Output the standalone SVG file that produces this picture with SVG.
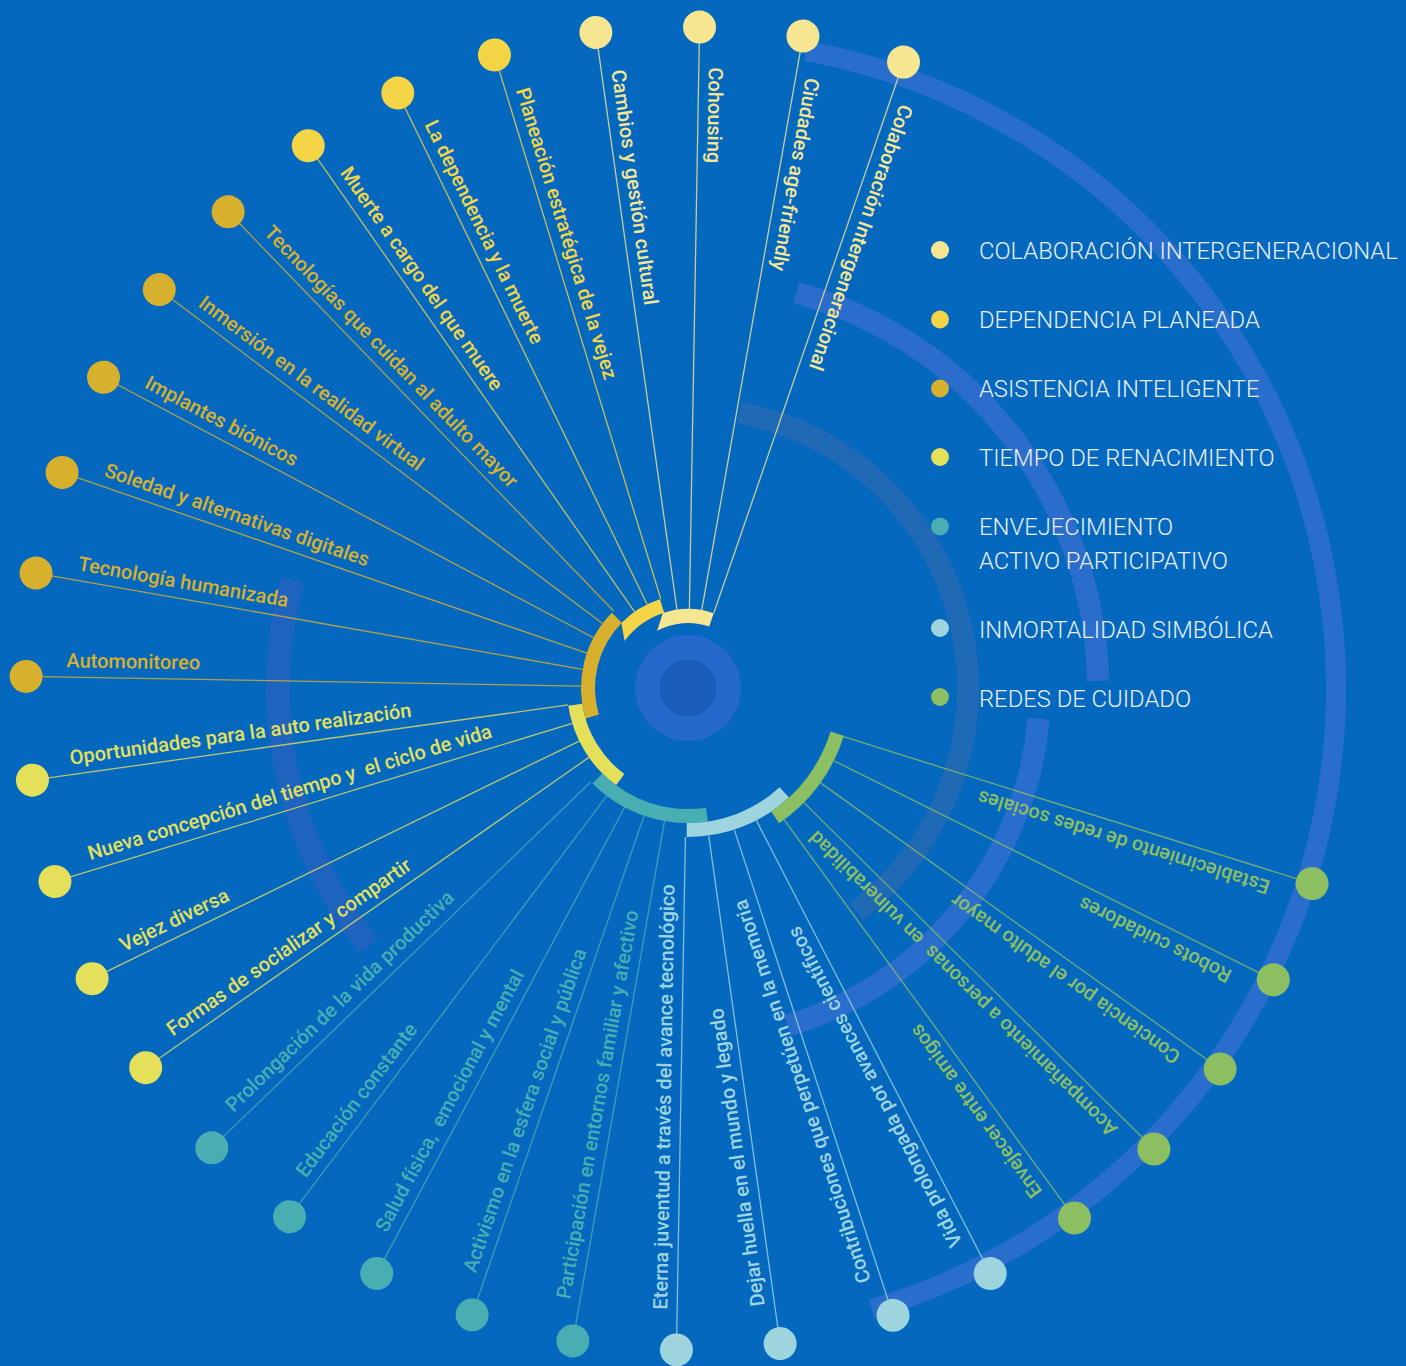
<svg xmlns="http://www.w3.org/2000/svg" width="1406" height="1366" viewBox="0 0 1406 1366">
<defs>
<style>
.bgarc{fill:none;stroke-linecap:butt}
.ring{fill:none;stroke-width:14;stroke-linecap:butt}
.ln{stroke-width:1.3;fill:none;opacity:0.8}
.lbl{font-family:Roboto,"Liberation Sans",sans-serif;font-size:20px;font-weight:500;white-space:pre}
.leg{font-family:Roboto,"Liberation Sans",sans-serif;font-size:23.8px;font-weight:300;fill:#E8EEF8}
.k1{fill:#F6E692}.s1{stroke:#F6E692}
.k2{fill:#F3D546}.s2{stroke:#F3D546}
.k3{fill:#D7B12D}.s3{stroke:#D7B12D}
.k4{fill:#E4E05A}.s4{stroke:#E4E05A}
.k5{fill:#48AEB2}.s5{stroke:#48AEB2}
.k6{fill:#9DD4DD}.s6{stroke:#9DD4DD}
.k7{fill:#8BBF62}.s7{stroke:#8BBF62}
</style>
</defs>
<rect width="1406" height="1366" fill="#0568BF"/>

<g id="background-arcs" transform="translate(688 688)">
<circle class="bgarc" r="648" stroke="#2A6ECD" stroke-width="20" stroke-dasharray="1730.4 4000" transform="rotate(280.5)"/>
<circle class="bgarc" r="410" stroke="#2A6DCB" stroke-width="22" stroke-dasharray="527.4 4000" transform="rotate(285.3)"/>
<circle class="bgarc" r="352" stroke="#2A6ECD" stroke-width="22" stroke-dasharray="420.8 4000" transform="rotate(5)"/>
<circle class="bgarc" r="280" stroke="#2069B5" stroke-width="22" stroke-dasharray="647 4000" transform="rotate(280.6)"/>
<circle class="bgarc" r="410" stroke="#1E63BE" stroke-width="24" stroke-dasharray="388.6 4000" transform="rotate(141)"/>
</g>

<g id="center">
<circle cx="688" cy="688" r="53" fill="#2469CB"/>
<circle cx="688" cy="688" r="28.5" fill="#1A5EB9"/>
</g>

<g id="ring">
<path class="k1" d="M 662.8 613.1 A 79 79 0 0 1 713.7 613.3 L 709.2 626.5 A 65 65 0 0 0 657.2 630.8 Z"/>
<path class="k2" d="M 621.4 623.0 A 93 93 0 0 1 660.0 599.3 L 664.2 612.7 A 79 79 0 0 0 624.6 640.9 Z"/>
<g transform="translate(688 688)">
<circle class="ring s3" r="100" stroke-dasharray="106.47 2000" transform="rotate(163.5)"/>
<circle class="ring s4" r="114" stroke-dasharray="89.54 2000" transform="rotate(126.5)"/>
<circle class="ring s5" r="128" stroke-dasharray="119.52 2000" transform="rotate(81.5)"/>
<circle class="ring s6" r="142" stroke-dasharray="107.07 2000" transform="rotate(47.3)"/>
<circle class="ring s7" r="156" stroke-dasharray="106.19 2000" transform="rotate(17)"/>
</g>
</g>

<g id="connectors" transform="translate(688 688)">
<line class="ln s1" x1="79" x2="662" transform="rotate(289)"/>
<line class="ln s1" x1="79" x2="662" transform="rotate(280)"/>
<line class="ln s1" x1="79" x2="661" transform="rotate(271)"/>
<line class="ln s1" x1="79" x2="662" transform="rotate(262)"/>
<line class="ln s2" x1="93" x2="662" transform="rotate(253)"/>
<line class="ln s2" x1="93" x2="662" transform="rotate(244)"/>
<line class="ln s2" x1="93" x2="662" transform="rotate(235)"/>
<line class="ln s3" x1="107" x2="662" transform="rotate(226)"/>
<line class="ln s3" x1="107" x2="662" transform="rotate(217)"/>
<line class="ln s3" x1="107" x2="662" transform="rotate(208)"/>
<line class="ln s3" x1="107" x2="662" transform="rotate(199)"/>
<line class="ln s3" x1="107" x2="662" transform="rotate(190)"/>
<line class="ln s3" x1="107" x2="662" transform="rotate(181)"/>
<line class="ln s4" x1="121" x2="662" transform="rotate(172)"/>
<line class="ln s4" x1="121" x2="662" transform="rotate(163)"/>
<line class="ln s4" x1="121" x2="663" transform="rotate(154)"/>
<line class="ln s4" x1="121" x2="662" transform="rotate(145)"/>
<line class="ln s5" x1="135" x2="662" transform="rotate(136)"/>
<line class="ln s5" x1="135" x2="662" transform="rotate(127)"/>
<line class="ln s5" x1="135" x2="663" transform="rotate(118)"/>
<line class="ln s5" x1="135" x2="663" transform="rotate(109)"/>
<line class="ln s5" x1="135" x2="663" transform="rotate(100)"/>
<line class="ln s6" x1="149" x2="662" transform="rotate(91)"/>
<line class="ln s6" x1="149" x2="662" transform="rotate(82)"/>
<line class="ln s6" x1="149" x2="660" transform="rotate(71.9)"/>
<line class="ln s6" x1="149" x2="659" transform="rotate(62.7)"/>
<line class="ln s7" x1="163" x2="656" transform="rotate(53.9)"/>
<line class="ln s7" x1="163" x2="655.5" transform="rotate(44.7)"/>
<line class="ln s7" x1="163" x2="654.5" transform="rotate(35.6)"/>
<line class="ln s7" x1="163" x2="654" transform="rotate(26.5)"/>
<line class="ln s7" x1="163" x2="654" transform="rotate(17.4)"/>
</g>

<g id="nodes" transform="translate(688 688)">
<g id="n-colaboracion" transform="rotate(289)"><circle class="k1" cx="662" r="16.5"/><text class="lbl k1" transform="translate(662 0) rotate(180)" x="40" y="-10">Colaboración Intergeneracional</text></g>
<g id="n-ciudades" transform="rotate(280)"><circle class="k1" cx="662" r="16.5"/><text class="lbl k1" transform="translate(662 0) rotate(180)" x="40" y="-10">Ciudades age-friendly</text></g>
<g id="n-cohousing" transform="rotate(271)"><circle class="k1" cx="661" r="16.5"/><text class="lbl k1" transform="translate(661 0) rotate(180)" x="40" y="-10">Cohousing</text></g>
<g id="n-cambios" transform="rotate(262)"><circle class="k1" cx="662" r="16.5"/><text class="lbl k1" transform="translate(662 0) rotate(180)" x="40" y="-10">Cambios y gestión cultural</text></g>
<g id="n-planeacion" transform="rotate(253)"><circle class="k2" cx="662" r="16.5"/><text class="lbl k2" transform="translate(662 0) rotate(180)" x="40" y="-10">Planeación estratégica de la vejez</text></g>
<g id="n-dependencia" transform="rotate(244)"><circle class="k2" cx="662" r="16.5"/><text class="lbl k2" transform="translate(662 0) rotate(180)" x="40" y="-10">La dependencia y la muerte</text></g>
<g id="n-muerte" transform="rotate(235)"><circle class="k2" cx="662" r="16.5"/><text class="lbl k2" transform="translate(662 0) rotate(180)" x="40" y="-10">Muerte a cargo del que muere</text></g>
<g id="n-tecnologias" transform="rotate(226)"><circle class="k3" cx="662" r="16.5"/><text class="lbl k3" transform="translate(662 0) rotate(180)" x="40" y="-10">Tecnologías que cuidan al adulto mayor</text></g>
<g id="n-inmersion" transform="rotate(217)"><circle class="k3" cx="662" r="16.5"/><text class="lbl k3" transform="translate(662 0) rotate(180)" x="40" y="-10">Inmersión en la realidad virtual</text></g>
<g id="n-implantes" transform="rotate(208)"><circle class="k3" cx="662" r="16.5"/><text class="lbl k3" transform="translate(662 0) rotate(180)" x="40" y="-10">Implantes biónicos</text></g>
<g id="n-soledad" transform="rotate(199)"><circle class="k3" cx="662" r="16.5"/><text class="lbl k3" transform="translate(662 0) rotate(180)" x="40" y="-10">Soledad y alternativas digitales</text></g>
<g id="n-tec-humanizada" transform="rotate(190)"><circle class="k3" cx="662" r="16.5"/><text class="lbl k3" transform="translate(662 0) rotate(180)" x="40" y="-10">Tecnología humanizada</text></g>
<g id="n-automonitoreo" transform="rotate(181)"><circle class="k3" cx="662" r="16.5"/><text class="lbl k3" transform="translate(662 0) rotate(180)" x="40" y="-10">Automonitoreo</text></g>
<g id="n-oportunidades" transform="rotate(172)"><circle class="k4" cx="662" r="16.5"/><text class="lbl k4" transform="translate(662 0) rotate(180)" x="40" y="-10">Oportunidades para la auto realización</text></g>
<g id="n-nueva" transform="rotate(163)"><circle class="k4" cx="662" r="16.5"/><text class="lbl k4" transform="translate(662 0) rotate(180)" x="40" y="-10">Nueva concepción del tiempo y  el ciclo de vida</text></g>
<g id="n-vejez" transform="rotate(154)"><circle class="k4" cx="663" r="16.5"/><text class="lbl k4" transform="translate(663 0) rotate(180)" x="40" y="-10">Vejez diversa</text></g>
<g id="n-formas" transform="rotate(145)"><circle class="k4" cx="662" r="16.5"/><text class="lbl k4" transform="translate(662 0) rotate(180)" x="40" y="-10">Formas de socializar y compartir</text></g>
<g id="n-prolongacion" transform="rotate(136)"><circle class="k5" cx="662" r="16.5"/><text class="lbl k5" transform="translate(662 0) rotate(180)" x="40" y="-10">Prolongación de la vida productiva</text></g>
<g id="n-educacion" transform="rotate(127)"><circle class="k5" cx="662" r="16.5"/><text class="lbl k5" transform="translate(662 0) rotate(180)" x="40" y="-10">Educación constante</text></g>
<g id="n-salud" transform="rotate(118)"><circle class="k5" cx="663" r="16.5"/><text class="lbl k5" transform="translate(663 0) rotate(180)" x="40" y="-10">Salud física,  emocional y mental</text></g>
<g id="n-activismo" transform="rotate(109)"><circle class="k5" cx="663" r="16.5"/><text class="lbl k5" transform="translate(663 0) rotate(180)" x="40" y="-10">Activismo en la esfera social y pública</text></g>
<g id="n-participacion" transform="rotate(100)"><circle class="k5" cx="663" r="16.5"/><text class="lbl k5" transform="translate(663 0) rotate(180)" x="40" y="-10">Participación en entornos familiar y afectivo</text></g>
<g id="n-eterna" transform="rotate(91)"><circle class="k6" cx="662" r="16.5"/><text class="lbl k6" transform="translate(662 0) rotate(180)" x="40" y="-10">Eterna juventud a través del avance tecnológico</text></g>
<g id="n-dejar" transform="rotate(82)"><circle class="k6" cx="662" r="16.5"/><text class="lbl k6" transform="translate(662 0) rotate(180)" x="40" y="-10">Dejar huella en el mundo y legado</text></g>
<g id="n-contribuciones" transform="rotate(71.9)"><circle class="k6" cx="660" r="16.5"/><text class="lbl k6" transform="translate(660 0) rotate(180)" x="40" y="-10">Contribuciones que perpetúen en la memoria</text></g>
<g id="n-vida" transform="rotate(62.7)"><circle class="k6" cx="659" r="16.5"/><text class="lbl k6" transform="translate(659 0) rotate(180)" x="40" y="-10">Vida prolongada por avances científicos</text></g>
<g id="n-envejecer" transform="rotate(53.9)"><circle class="k7" cx="656" r="16.5"/><text class="lbl k7" transform="translate(656 0) rotate(180)" x="40" y="-10">Envejecer entre amigos</text></g>
<g id="n-acompanamiento" transform="rotate(44.7)"><circle class="k7" cx="655.5" r="16.5"/><text class="lbl k7" transform="translate(655.5 0) rotate(180)" x="40" y="-10">Acompañamiento a personas  en vulnerabilidad</text></g>
<g id="n-conciencia" transform="rotate(35.6)"><circle class="k7" cx="654.5" r="16.5"/><text class="lbl k7" transform="translate(654.5 0) rotate(180)" x="40" y="-10">Conciencia por el adulto mayor</text></g>
<g id="n-robots" transform="rotate(26.5)"><circle class="k7" cx="654" r="16.5"/><text class="lbl k7" transform="translate(654 0) rotate(180)" x="40" y="-10">Robots cuidadores</text></g>
<g id="n-establecimiento" transform="rotate(17.4)"><circle class="k7" cx="654" r="16.5"/><text class="lbl k7" transform="translate(654 0) rotate(180)" x="40" y="-10">Establecimiento de redes sociales</text></g>
</g>

<g id="legend">
<g id="leg-colaboracion"><circle class="k1" cx="940" cy="250" r="9"/><text class="leg" x="979" y="259">COLABORACIÓN INTERGENERACIONAL</text></g>
<g id="leg-dependencia"><circle class="k2" cx="940" cy="319.5" r="9"/><text class="leg" x="979" y="328">DEPENDENCIA PLANEADA</text></g>
<g id="leg-asistencia"><circle class="k3" cx="940" cy="388.5" r="9"/><text class="leg" x="979" y="397">ASISTENCIA INTELIGENTE</text></g>
<g id="leg-tiempo"><circle class="k4" cx="940" cy="457" r="9"/><text class="leg" x="979" y="466">TIEMPO DE RENACIMIENTO</text></g>
<g id="leg-envejecimiento"><circle class="k5" cx="940" cy="526.5" r="9"/><text class="leg" x="979" y="534.5">ENVEJECIMIENTO</text><text class="leg" x="979" y="569">ACTIVO PARTICIPATIVO</text></g>
<g id="leg-inmortalidad"><circle class="k6" cx="940" cy="628" r="9"/><text class="leg" x="979" y="637.5">INMORTALIDAD SIMBÓLICA</text></g>
<g id="leg-redes"><circle class="k7" cx="940" cy="697" r="9"/><text class="leg" x="979" y="706.5">REDES DE CUIDADO</text></g>
</g>
</svg>
